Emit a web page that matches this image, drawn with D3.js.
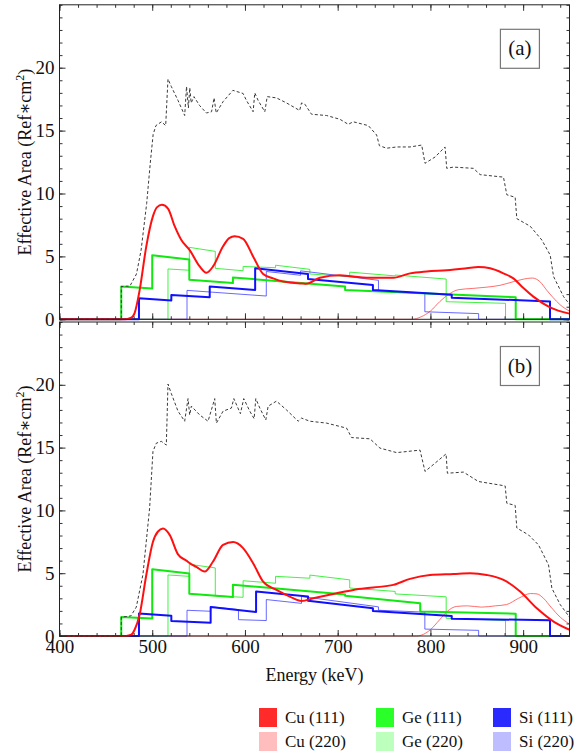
<!DOCTYPE html>
<html><head><meta charset="utf-8">
<script src="https://cdn.jsdelivr.net/npm/d3@7"></script>
<style>
body{margin:0;background:#fff}
svg{display:block}
svg text{font-family:"Liberation Serif","Tinos","Times New Roman","DejaVu Serif",serif !important;fill:#111}
</style>
</head><body>
<svg id="c" width="582" height="753"></svg>
<script>
// ---------- data ----------
const xTicks = [400, 500, 600, 700, 800, 900];
const yTicks = [0, 5, 10, 15, 20];
const panelLabels = ["(a)", "(b)"];
const legendLabels = ["Cu (111)", "Ge (111)", "Si (111)", "Cu (220)", "Ge (220)", "Si (220)"];

// smooth curves [energy, area]
const totalA = [[400,0],[466.6,0],[466.6,2.6],[476,2.65],[483,3.6],[488,5.5],[494,9.2],[498,12.5],[501,14.7],[504,15.4],[510,15.7],[514.5,15.4],[517,19.1],[520.6,18.5],[527.8,17.4],[535,16.2],[537,18.5],[539,16.8],[540.5,18.4],[542,17.2],[545,17.7],[551,17.0],[558.4,16.4],[564,16.5],[566.7,17.6],[569,16.4],[576.4,17.3],[587,18.2],[598,17.95],[601.6,17.4],[608.8,16.5],[610.6,18.0],[614.2,17.4],[621.4,16.5],[624,17.7],[634,17.6],[644.8,17.2],[659,16.6],[661,17.2],[664.6,17.1],[671.8,16.3],[688,16.2],[702.4,15.9],[711.4,15.5],[716.8,15.7],[733,15.4],[742,14.65],[745,13.8],[752.8,13.6],[763.6,13.7],[778,13.7],[790.6,13.85],[794.2,12.4],[805,12.9],[815.8,13.7],[817.6,12.0],[824.8,12.1],[846.4,12.0],[853.6,11.5],[878.8,11.3],[882.4,9.9],[891.4,9.7],[893.2,8.0],[907.6,7.4],[920.2,6.3],[929.2,5.1],[932.8,3.4],[943.6,1.8],[950,1.2]];
const cu111A = [[400,0],[470,0],[476.7,0.1],[481,0.5],[486.4,2.3],[493.6,5.8],[500.8,8.2],[505,8.9],[510.5,9.1],[517,8.8],[524.2,7.4],[531.4,6.3],[540.4,5.5],[551.2,4.2],[558.4,3.7],[565.6,4.2],[576.4,5.8],[583,6.45],[589,6.6],[598,6.4],[608.8,5.0],[619.6,3.6],[630.4,3.25],[641.2,3.0],[651,2.9],[661,2.85],[666,2.82],[680.8,3.3],[702,3.5],[717,3.4],[738,3.3],[760,3.3],[778,3.65],[796,3.8],[817.6,3.9],[839,4.05],[851.8,4.15],[864.4,4.05],[878.8,3.65],[889.5,3.25],[900,2.5],[911,1.8],[929,0.95],[950,0.45]];
const cu220A = [[400,0],[780,0],[790,0.2],[800,0.65],[810,1.4],[820,2.0],[830,2.35],[845,2.45],[860,2.55],[875,2.7],[890,3.0],[905,3.25],[910,3.28],[918,3.0],[925.6,2.3],[932,1.75],[940,1.15],[950,0.65]];

const totalB = [[400,0],[466.6,0],[466.6,1.5],[477,1.6],[482.8,2.3],[490,4.9],[497.2,10.2],[500.8,14.7],[504.4,15.35],[509.8,15.5],[515.2,15.2],[517,20.06],[520.6,19.3],[527.8,17.9],[535,17.1],[538.6,18.9],[540.4,17.6],[542.2,18.3],[551.2,17.6],[560.2,17.1],[567.4,18.9],[569.2,16.95],[576.4,17.9],[585.4,18.15],[588,18.9],[595.1,17.7],[598.7,18.9],[605.2,17.9],[609.9,17.3],[611.7,18.9],[616,18.15],[622.5,17.2],[625,18.3],[634,18.7],[644.8,18.0],[657.4,17.1],[661,17.35],[670,17.1],[688,16.95],[709.6,16.55],[715,15.8],[734.8,15.7],[745.6,14.96],[763.6,14.6],[788.8,14.8],[794.2,13.1],[805,13.76],[816.9,14.5],[818.3,12.96],[835.6,13.05],[851.8,12.3],[880.6,11.95],[882.4,10.57],[891.4,10.4],[893.2,8.6],[905.8,8.05],[916.6,7.25],[927.4,5.66],[931,3.8],[940,2.5],[950,1.5]];
const cu111B = [[400,0],[472,0],[477.4,0.1],[481,0.5],[486.4,1.7],[493.6,4.86],[500.8,7.5],[506,8.3],[511.6,8.55],[518.8,8.05],[527.8,6.5],[536.8,6.0],[540.4,5.8],[547.6,5.5],[556.6,5.13],[565.6,5.93],[576.4,7.25],[587.2,7.48],[598,7.0],[608.8,5.8],[619.6,4.33],[634,3.67],[648.4,3.14],[661,2.79],[673.6,3.0],[698.8,3.4],[716.8,3.67],[738.4,3.86],[760,4.07],[778,4.55],[799.6,4.86],[824.8,4.94],[842.8,5.0],[860.8,4.86],[878.8,4.47],[896.8,3.54],[914.8,2.2],[932.8,1.15],[950,0.5]];
const cu220B = [[400,0],[785,0],[800,0.5],[810,1.3],[818,1.95],[828,2.35],[840,2.4],[855,2.3],[870,2.4],[882,2.5],[895,3.0],[908,3.38],[915,3.35],[922,3.0],[930,2.3],[940,1.5],[950,0.95]];

// step series: [startE, endE, startValue, endValue]
const ge111A = [[466.6,500,2.6,2.45],[500,540,5.1,4.75],[540,587,3.15,2.88],[587,708,3.33,2.6],[708,892,2.33,1.75]];
const ge220A = [[517,540,4.0,3.9],[540,568,5.72,5.4],[568,598,4.05,3.86],[598,633,4.2,4.1],[633,670,4.3,3.97],[670,713,3.6,3.4],[713,762,3.75,3.45],[762,817,3.52,3.2],[817,881,1.4,1.27]];
const si111A = [[485.7,520.6,1.67,1.5],[520.6,562,1.93,1.75],[562,611,2.6,2.33],[611,668,4.05,3.6],[668,738,3.2,2.72],[738,823,2.33,1.95],[823,929,1.72,1.42]];
const si220A = [[537.5,623,2.3,1.85],[623,660,3.8,3.5],[660,744,3.85,3.1],[744,794,2.3,2.05],[794,852,0.6,0.45]];

const ge111B = [[466.6,500,1.51,1.4],[500,540,5.31,4.97],[540,587,3.37,3.1],[587,708,4.09,3.3],[708,789,3.2,2.6],[789,892,1.95,1.78]];
const ge220B = [[517,540,4.86,4.75],[540,568,5.71,5.42],[568,598,3.2,3.08],[598,633,4.4,4.2],[633,670,4.75,4.6],[670,713,4.85,4.47],[713,762,3.82,3.55],[762,817,3.35,3.12],[817,881,1.41,1.24]];
const si111B = [[485.7,520.6,1.8,1.62],[520.6,563,1.2,1.06],[563,612,2.31,1.91],[612,668,3.55,3.15],[668,738,2.8,2.2],[738,823,2.0,1.6],[823,929,1.38,1.25]];
const si220B = [[537.5,563,2.05,1.97],[563,593,2.33,2.1],[593,623,1.3,1.23],[623,661,2.9,2.6],[661,744,3.15,2.32],[744,794,2.05,1.9],[794,852,0.55,0.45]];

// ---------- drawing ----------
const FONT = '"Liberation Serif","Tinos","Times New Roman","DejaVu Serif",serif';
const svg = d3.select("#c");
const X0 = 59.5, X1 = 569.5;
const x = d3.scaleLinear().domain([400, 950]).range([X0, X1]);

const styles = {
  cu111: {stroke:"#ff1010", w:2, op:1},
  cu220: {stroke:"#ff4a4a", w:1, op:0.8},
  ge111: {stroke:"#10e810", w:2, op:1},
  ge220: {stroke:"#22ee22", w:1, op:0.85},
  si111: {stroke:"#1010ff", w:2, op:1},
  si220: {stroke:"#3535ff", w:1, op:0.75}
};

function stepPts(segs){
  const p = [[400,0],[segs[0][0],0]];
  segs.forEach(s => { p.push([s[0], s[2]]); p.push([s[1], s[3]]); });
  const last = segs[segs.length-1];
  p.push([last[1], 0]); p.push([950, 0]);
  return p;
}

function panel(top, bottom, idx, d, showXLabels){
  const y = d3.scaleLinear().domain([0, 25]).range([bottom, top]);
  const g = svg.append("g").attr("font-family", FONT);
  const cid = "clip" + idx;
  svg.append("clipPath").attr("id", cid).append("rect")
    .attr("x", X0).attr("y", top).attr("width", X1 - X0).attr("height", bottom - top + 1.5);
  const plot = g.append("g").attr("clip-path", `url(#${cid})`);
  const line = d3.line().x(p => x(p[0])).y(p => y(p[1]));
  const smooth = d3.line().x(p => x(p[0])).y(p => y(p[1])).curve(d3.curveMonotoneX);

  const add = (pts, st, gen) => plot.append("path").attr("d", gen(pts))
      .attr("fill","none").attr("stroke", st.stroke).attr("stroke-width", st.w)
      .attr("stroke-opacity", st.op).attr("stroke-linejoin","round");

  add(d.cu220, styles.cu220, smooth);
  add(stepPts(d.ge220), styles.ge220, line);
  add(stepPts(d.si220), styles.si220, line);
  add(stepPts(d.ge111), styles.ge111, line);
  add(stepPts(d.si111), styles.si111, line);
  add(d.cu111, styles.cu111, smooth);
  plot.append("path").attr("d", line(d.total)).attr("fill","none")
    .attr("stroke","#3a3a3a").attr("stroke-width",1).attr("stroke-dasharray","3,2.2");

  // axes
  const minorY = d3.range(0, 26, 1);
  const minorX = d3.range(400, 951, 20);
  const mk = (axis, tr) => {
    const a = g.append("g").attr("transform", tr).call(axis);
    a.attr("font-family", FONT);
    a.select(".domain").remove();
    a.selectAll("line").attr("stroke","#333");
    return a;
  };
  mk(d3.axisLeft(y).tickValues(minorY).tickSize(-3).tickFormat(""), `translate(${X0},0)`);
  mk(d3.axisRight(y).tickValues(minorY).tickSize(-3).tickFormat(""), `translate(${X1},0)`);
  mk(d3.axisRight(y).tickValues(yTicks).tickSize(-6).tickFormat(""), `translate(${X1},0)`);
  const yl = mk(d3.axisLeft(y).tickValues(yTicks).tickSize(-6).tickPadding(5), `translate(${X0},0)`);
  yl.selectAll("text").attr("font-size", 19).attr("fill","#111");
  mk(d3.axisTop(x).tickValues(minorX).tickSize(-3).tickFormat(""), `translate(0,${top})`);
  mk(d3.axisTop(x).tickValues(xTicks).tickSize(-6).tickFormat(""), `translate(0,${top})`);
  mk(d3.axisBottom(x).tickValues(minorX).tickSize(-3).tickFormat(""), `translate(0,${bottom})`);
  const xb = mk(d3.axisBottom(x).tickValues(xTicks).tickSize(-6).tickPadding(3)
      .tickFormat(showXLabels ? d3.format("d") : ""), `translate(0,${bottom})`);
  xb.selectAll("text").attr("font-size", 19).attr("fill","#111");

  // frame
  g.append("rect").attr("x", X0).attr("y", top).attr("width", X1 - X0).attr("height", bottom - top)
    .attr("fill","none").attr("stroke","#222").attr("stroke-width",1);

  // label box
  const bx = x(875.5), by = top + 24.5;
  g.append("rect").attr("x", bx).attr("y", by).attr("width", 39).attr("height", 39)
    .attr("fill","#fff").attr("stroke","#777").attr("stroke-width",1.2);
  g.append("text").attr("x", bx + 19.5).attr("y", by + 26).attr("text-anchor","middle")
    .attr("font-size", 21).text(panelLabels[idx]);

  // y title
  const t = g.append("text").attr("transform", `translate(31,${(top+bottom)/2}) rotate(-90)`)
    .attr("text-anchor","middle").attr("font-size", 18);
  t.append("tspan").text("Effective Area (Ref\u2217cm");
  t.append("tspan").attr("font-size", 12).attr("dy", -7).text("2");
  t.append("tspan").attr("dy", 7).text(")");
}

panel(4.8, 319.3, 0, {total: totalA, cu111: cu111A, cu220: cu220A, ge111: ge111A, ge220: ge220A, si111: si111A, si220: si220A}, false);
panel(322, 636, 1, {total: totalB, cu111: cu111B, cu220: cu220B, ge111: ge111B, ge220: ge220B, si111: si111B, si220: si220B}, true);

// x title
svg.append("text").attr("x", (X0 + X1) / 2).attr("y", 681).attr("text-anchor","middle")
  .attr("font-family", FONT).attr("font-size", 18).text("Energy (keV)");

// legend
const legendColors = ["#ff2a2a", "#2aff2a", "#2a2aff", "#ffbdbd", "#bdffbd", "#bdbdff"];
const legX = [259, 376, 493], legY = [708, 732];
legendLabels.forEach((lab, i) => {
  const cx = legX[i % 3], cy = legY[Math.floor(i / 3)];
  svg.append("rect").attr("x", cx).attr("y", cy).attr("width", 18).attr("height", 19).attr("fill", legendColors[i]);
  svg.append("text").attr("x", cx + 26).attr("y", cy + 15).attr("font-family", FONT)
    .attr("font-size", 17).text(lab);
});
</script>
</body></html>
